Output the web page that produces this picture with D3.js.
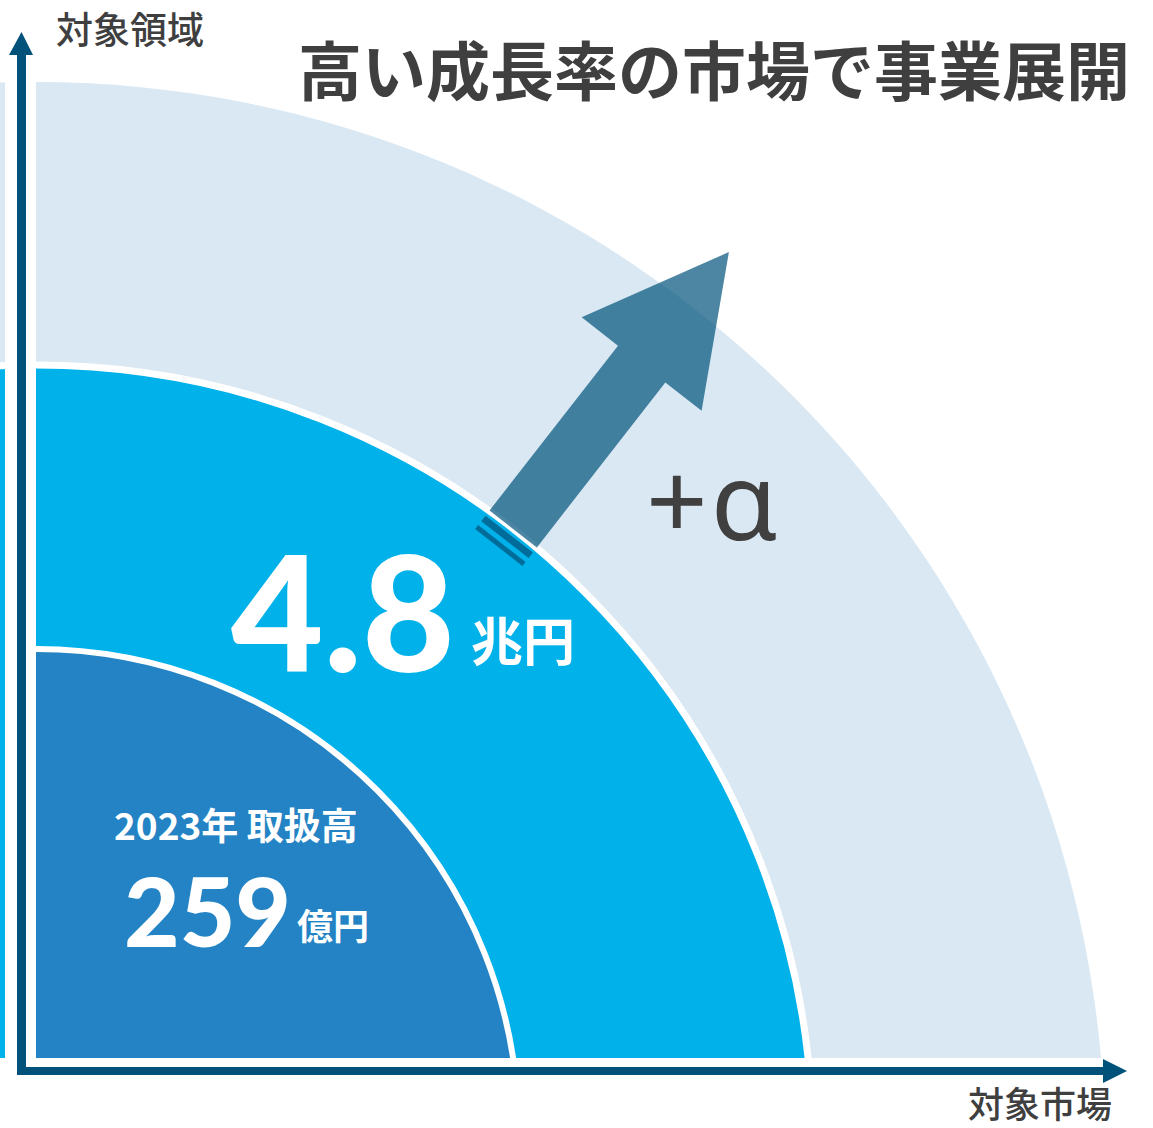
<!DOCTYPE html>
<html><head><meta charset="utf-8">
<script src="https://cdn.jsdelivr.net/npm/d3@7"></script>
<style>html,body{margin:0;padding:0;background:#fff}svg{display:block}</style>
</head><body>
<div id="chart"></div>
<script>
// ---- data ----
const title = "高い成長率の市場で事業展開";
const yAxisLabel = "対象領域";
const xAxisLabel = "対象市場";
const ringNames = ["2023年 取扱高", "対象市場", "+α"];
const ringValues = ["259", "4.8", "+α"];
const ringUnits = ["億円", "兆円", ""];
const ringColors = ["#2383c4", "#00b1ea", "#d9e8f3"];

// ---- layout ----
const W = 1153, H = 1128;
const ox = 36, oy = 1058;               // origin of quadrant
const ringRadius = [482.7, 776.5, 1069]; // radii in px
const ringDrop = [73.7, 83.5, 93];       // circle center below origin
const axisColor = "#00527a";
const textColor = "#3f3f3f";
const cjk = "'Noto Sans CJK JP','Noto Sans',sans-serif";

const svg = d3.select("#chart").append("svg").attr("width", W).attr("height", H);
const defs = svg.append("defs");
defs.append("clipPath").attr("id", "clipWide").append("rect")
  .attr("x", 0).attr("y", 0).attr("width", W).attr("height", oy);
defs.append("clipPath").attr("id", "clipQuad").append("rect")
  .attr("x", ox).attr("y", 0).attr("width", W - ox).attr("height", oy);

const rings = d3.range(ringValues.length).map(i => ({
  i, r: ringRadius[i], cx: ox, cy: oy + ringDrop[i], color: ringColors[i]
}));

const arc = d3.arc().innerRadius(0);
// draw outer first
const order = rings.slice().reverse();
svg.append("g").selectAll("g").data(order).join("g")
  .attr("clip-path", d => d.i === 0 ? "url(#clipQuad)" : "url(#clipWide)")
  .append("path")
  .attr("transform", d => `translate(${d.cx},${d.cy})`)
  .attr("d", d => arc({outerRadius: d.r, startAngle: -Math.PI / 2, endAngle: Math.PI / 2}))
  .attr("fill", d => d.color)
  .attr("stroke", d => d.i === 2 ? "none" : "#fff")
  .attr("stroke-width", d => d.i === 1 ? 7 : 6);

// white band around the vertical axis
svg.append("rect").attr("x", 5).attr("y", 0).attr("width", ox - 5).attr("height", oy).attr("fill", "#fff");

// ---- arrow (radial from middle ring) ----
const mid = rings[1];
const theta = 37.92 * Math.PI / 180;
const u = [Math.sin(theta), -Math.cos(theta)], p = [Math.cos(theta), Math.sin(theta)];
const base = [mid.cx + mid.r * u[0], mid.cy + mid.r * u[1]];
const pt = (a, b) => [base[0] + a * u[0] + b * p[0], base[1] + a * u[1] + b * p[1]];
const shaftW = 30, headAt = 209, headW = 76, tipAt = 351;
const arrowPts = [pt(0, -shaftW), pt(headAt, -shaftW), pt(headAt, -headW), pt(tipAt, 0),
  pt(headAt, headW), pt(headAt, shaftW), pt(0, shaftW)];
svg.append("path").attr("d", d3.line()(arrowPts) + "Z")
  .attr("fill", axisColor).attr("fill-opacity", 0.7);
[[-10, 7], [-21, 5]].forEach(([a, sw]) => {
  svg.append("path").attr("d", d3.line()([pt(a, -shaftW), pt(a, shaftW)]))
    .attr("stroke", axisColor).attr("stroke-opacity", 0.72).attr("stroke-width", sw);
});

// ---- axes ----
const xScale = d3.scaleLinear().domain([0, 1]).range([17, 1104]);
const yScale = d3.scaleLinear().domain([0, 1]).range([1075, 54]);
const ax = svg.append("g").attr("fill", axisColor);
ax.append("rect").attr("x", xScale(0)).attr("y", 1067).attr("width", xScale(1) - xScale(0)).attr("height", 8);
ax.append("rect").attr("x", 17).attr("y", yScale(1)).attr("width", 9).attr("height", yScale(0) - yScale(1));
ax.append("path").attr("d", `M${xScale(1) - 1},1059L${xScale(1) - 1},1083L1127,1071Z`);
ax.append("path").attr("d", `M9,${yScale(1) + 1}L33,${yScale(1) + 1}L21.5,32Z`);

// ---- texts ----
svg.append("text").attr("x", 298).attr("y", 95).text(title)
  .attr("font-family", cjk).attr("font-weight", 700).attr("font-size", 64).attr("fill", textColor);
svg.append("text").attr("x", 56).attr("y", 44).text(yAxisLabel)
  .attr("font-family", cjk).attr("font-weight", 500).attr("font-size", 37).attr("fill", textColor);
svg.append("text").attr("x", 968).attr("y", 1118).text(xAxisLabel)
  .attr("font-family", cjk).attr("font-weight", 500).attr("font-size", 36).attr("fill", textColor);

// inner ring label
svg.append("text").attr("x", 114).attr("y", 840).text(ringNames[0])
  .attr("font-family", cjk).attr("font-weight", 700).attr("font-size", 37).attr("fill", "#fff");
svg.append("text").attr("x", 124).attr("y", 947).text(ringValues[0])
  .attr("font-family", "Lato,sans-serif").attr("font-weight", 900).attr("font-size", 96).attr("fill", "#fff");
svg.append("text").attr("x", 297).attr("y", 940).text(ringUnits[0])
  .attr("font-family", cjk).attr("font-weight", 700).attr("font-size", 36).attr("fill", "#fff");
// middle ring label
svg.append("text").attr("x", 231).attr("y", 672).text(ringValues[1])
  .attr("font-family", "Lato,sans-serif").attr("font-weight", 900).attr("font-size", 160).attr("fill", "#fff");
svg.append("text").attr("x", 471).attr("y", 661).text(ringUnits[1])
  .attr("font-family", cjk).attr("font-weight", 700).attr("font-size", 52).attr("fill", "#fff");
// outer ring label
svg.append("text").attr("x", 646).attr("y", 540).text(ringValues[2])
  .attr("font-family", "'Noto Sans',sans-serif").attr("font-weight", 400).attr("font-size", 108)
  .attr("letter-spacing", 3).attr("fill", "#404040");
</script>
</body></html>
